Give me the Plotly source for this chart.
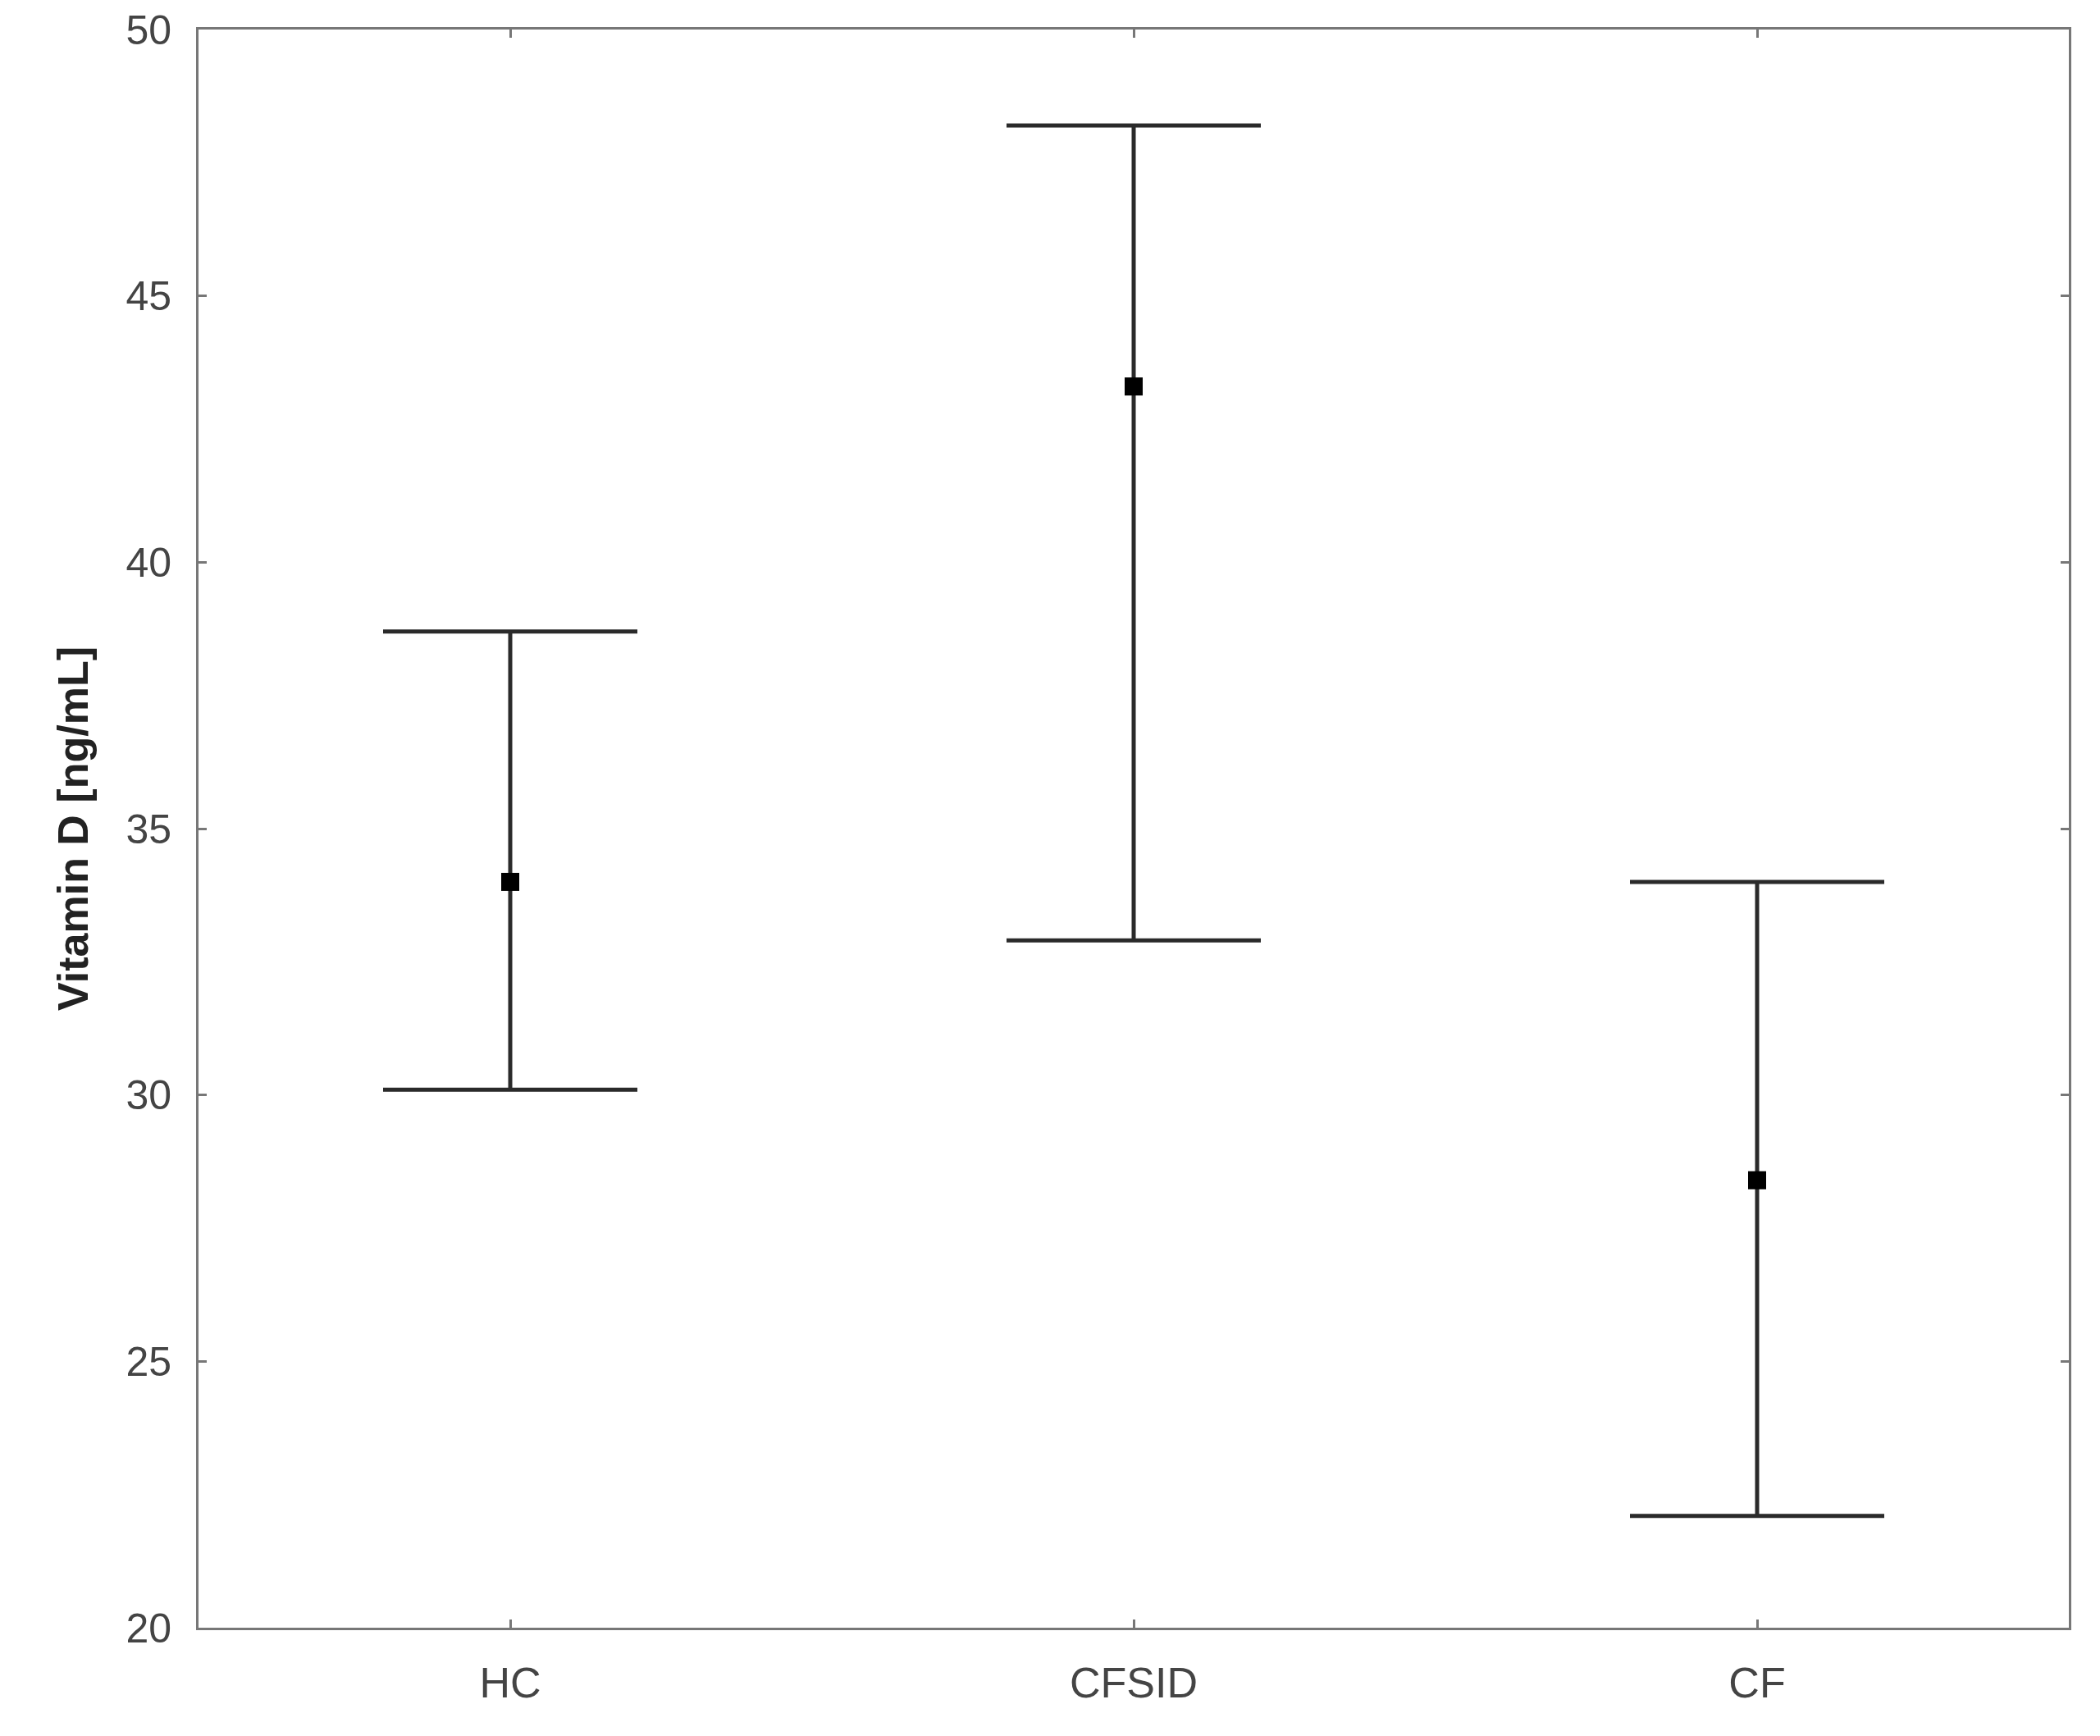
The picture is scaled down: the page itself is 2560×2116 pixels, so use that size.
import plotly.graph_objects as go

groups = ['HC', 'CFSID', 'CF']
means = [34.0, 43.3, 28.4]
upper = [38.7, 48.2, 34.0]
lower = [30.1, 32.9, 22.1]

err_plus = [u - m for u, m in zip(upper, means)]
err_minus = [m - l for m, l in zip(means, lower)]

fig = go.Figure()
fig.add_trace(go.Scatter(
    x=groups,
    y=means,
    mode='markers',
    marker=dict(symbol='square', size=22, color='#000000'),
    error_y=dict(type='data', symmetric=False,
                 array=err_plus, arrayminus=err_minus,
                 color='#2a2a2a', thickness=5, width=155),
    showlegend=False,
))

font_family = 'Liberation Sans, Arial, sans-serif'

fig.update_layout(
    width=2560, height=2116,
    paper_bgcolor='white', plot_bgcolor='white',
    margin=dict(l=234, r=46, t=28, b=140),
    xaxis=dict(
        type='category', range=[-0.5, 2.5], automargin=False,
        showline=True, linecolor='#777777', linewidth=3, mirror='ticks',
        ticks='inside', ticklen=10, tickwidth=3, tickcolor='#777777',
        showgrid=False, zeroline=False,
        tickfont=dict(family=font_family, size=52, color='#444444'),
        ticklabelstandoff=20,
    ),
    yaxis=dict(
        range=[20, 50], tickvals=[20, 25, 30, 35, 40, 45, 50],
        automargin=False,
        showline=True, linecolor='#777777', linewidth=3, mirror='ticks',
        ticks='inside', ticklen=10, tickwidth=3, tickcolor='#777777',
        showgrid=False, zeroline=False,
        tickfont=dict(family=font_family, size=50, color='#444444'),
        ticklabelstandoff=20,
        title=dict(text='<b>Vitamin D [ng/mL]</b>', standoff=30,
                   font=dict(family=font_family, size=52, color='#222222')),
    ),
)

fig.write_html('out.html')
